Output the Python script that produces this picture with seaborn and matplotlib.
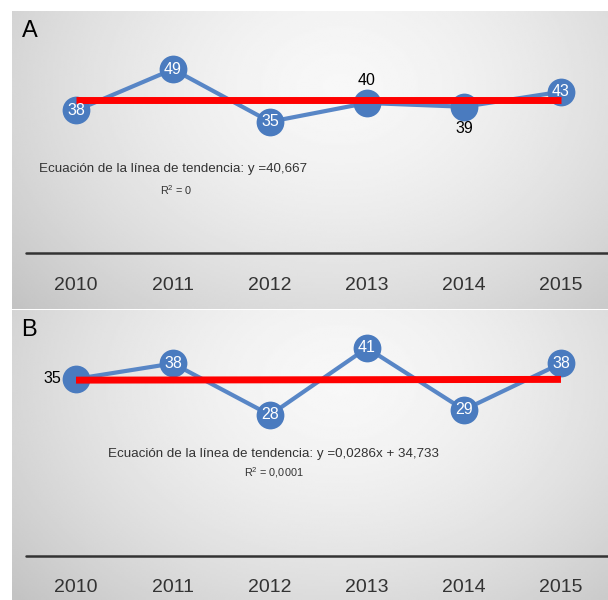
import numpy as np
import pandas as pd
import matplotlib.pyplot as plt
import seaborn as sns

# datos
years = ["2010", "2011", "2012", "2013", "2014", "2015"]
vals_a = [38, 49, 35, 40, 39, 43]
vals_b = [35, 38, 28, 41, 29, 38]
trend_a = [0.0, 40.667]      # pendiente, intercepto
trend_b = [0.0286, 34.733]
pos_a = ["in", "in", "in", "above", "below", "in"]
pos_b = ["left", "in", "in", "in", "in", "in"]
eq_a = "Ecuación de la línea de tendencia: y =40,667"
r2_a = "R$^{2}$ = 0"
eq_b = "Ecuación de la línea de tendencia: y =0,0286x + 34,733"
r2_b = "R$^{2}$ = 0,0001"

sns.set_theme(style="white")
plt.rcParams["font.family"] = ["Liberation Sans", "DejaVu Sans"]
plt.rcParams["mathtext.fontset"] = "custom"
plt.rcParams["mathtext.rm"] = "Liberation Sans"
plt.rcParams["mathtext.it"] = "Liberation Sans"
plt.rcParams["mathtext.default"] = "regular"

BLUE = "#4a7bbf"
LINE = "#5886c6"
RED = "#ff0000"
TXT = "#333333"

fig = plt.figure(figsize=(6.08, 6.0), dpi=100)
fig.patch.set_facecolor("white")


def fondo(ax, cx, cy):
    # degradado gris claro en el centro, mas oscuro a los lados
    xx, yy = np.meshgrid(np.linspace(0, 1, 300), np.linspace(0, 1, 150))
    r = np.sqrt(((xx - cx) / 0.72) ** 2 + ((yy - cy) / 1.1) ** 2)
    img = 0.97 - 0.20 * np.clip(r, 0, 1.2) ** 1.6
    ax.imshow(img, cmap="gray", vmin=0, vmax=1, extent=(0, 1, 0, 1),
              transform=ax.transAxes, aspect="auto", origin="lower",
              zorder=0, interpolation="bilinear")


def panel(ax, vals, trend, pos, eq, r2, letra, ylim, base, tick_pad,
          eq_xy, r2_xy):
    fondo(ax, 0.55, 0.75)
    df = pd.DataFrame({"x": np.arange(len(years)), "y": vals})
    df["t"] = trend[0] * (df["x"] + 1) + trend[1]
    sns.lineplot(data=df, x="x", y="y", ax=ax, color=LINE, linewidth=3,
                 marker="o", markersize=20, markerfacecolor=BLUE,
                 markeredgewidth=0, zorder=3)
    sns.lineplot(data=df, x="x", y="t", ax=ax, color=RED, linewidth=5,
                 zorder=4, solid_capstyle="butt")
    ax.axhline(base, color=TXT, linewidth=1.8, xmin=0.024, zorder=2)
    for x, v, p in zip(df["x"], vals, pos):
        if p == "in":
            ax.text(x, v, str(v), color="white", fontsize=11.5,
                    ha="center", va="center", zorder=5)
        elif p == "above":
            ax.annotate(str(v), (x, v), xytext=(0, 16.5), textcoords="offset points",
                        color="black", fontsize=11.5, ha="center", va="center", zorder=5)
        elif p == "below":
            ax.annotate(str(v), (x, v), xytext=(0, -16), textcoords="offset points",
                        color="black", fontsize=11.5, ha="center", va="center", zorder=5)
        else:
            ax.annotate(str(v), (x, v), xytext=(-11, 0), textcoords="offset points",
                        color="black", fontsize=11.5, ha="right", va="center", zorder=5)
    ax.text(eq_xy[0], eq_xy[1], eq, transform=ax.transAxes, fontsize=9.6,
            color=TXT, ha="left", va="center")
    ax.text(r2_xy[0], r2_xy[1], r2, transform=ax.transAxes, fontsize=7.8,
            color=TXT, ha="left", va="center")
    ax.text(0.016, 0.932, letra, transform=ax.transAxes, fontsize=17,
            color="black", ha="left", va="center")
    ax.set_xlim(-0.66, 5.485)
    ax.set_ylim(*ylim)
    ax.set_xticks(range(len(years)), years)
    ax.set_yticks([])
    ax.tick_params(axis="x", length=0, pad=tick_pad, labelsize=14,
                   labelcolor=TXT)
    ax.set_xlabel("")
    ax.set_ylabel("")
    for s in ax.spines.values():
        s.set_visible(False)


ax_a = fig.add_axes([12 / 608, 1 - 309 / 600, 596 / 608, 298 / 600])
ax_b = fig.add_axes([12 / 608, 0, 596 / 608, 290 / 600])

panel(ax_a, vals_a, trend_a, pos_a, eq_a, r2_a, "A", (-14.93, 64.53), 0.0,
      -23.0, (0.045, 0.470), (0.248, 0.399))
panel(ax_b, vals_b, trend_b, pos_b, eq_b, r2_b, "B", (-7.9, 48.37), 0.64,
      -15.0, (0.161, 0.503), (0.389, 0.438))

fig.savefig("out.png", dpi=100)
